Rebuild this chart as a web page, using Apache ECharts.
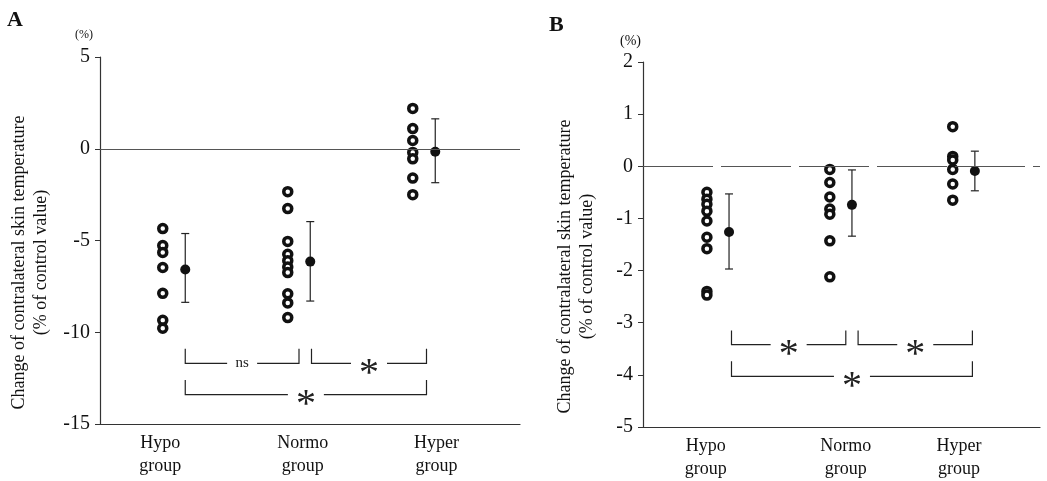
<!DOCTYPE html>
<html>
<head>
<meta charset="utf-8">
<script src="https://cdn.jsdelivr.net/npm/echarts@6/dist/echarts.min.js"></script>
<style>
html, body { margin: 0; padding: 0; background: #fff; }
#chart { width: 1047px; height: 481px; }
</style>
</head>
<body>
<div id="chart"></div>
<script>
// groups and tick ranges
var groups = ['Hypo', 'Normo', 'Hyper'];
var yTicksA = { min: -15, max: 5, interval: 5 };
var yTicksB = { min: -5, max: 2, interval: 1 };

// panel A: individual values (%)
var hypoA = [-4.35, -5.27, -5.65, -6.47, -7.88, -9.35, -9.78];
var normoA = [-2.34, -3.26, -5.05, -5.75, -6.1, -6.45, -6.75, -7.9, -8.4, -9.2];
var hyperA = [2.2, 1.1, 0.45, -0.2, -0.55, -1.6, -2.5];
var meanA = [-6.58, -6.15, -0.16];
var lowA = [-8.37, -8.3, -1.85];
var highA = [-4.62, -3.97, 1.63];

// panel B: individual values (%)
var hypoB = [-0.5, -0.63, -0.73, -0.86, -1.05, -1.36, -1.58, -2.4, -2.47];
var normoB = [-0.06, -0.31, -0.59, -0.82, -0.92, -1.43, -2.12];
var hyperB = [0.76, 0.19, 0.12, -0.06, -0.34, -0.65];
var meanB = [-1.26, -0.74, -0.09];
var lowB = [-1.97, -1.34, -0.47];
var highB = [-0.53, -0.07, 0.29];

// significance brackets: [from, to, top, bottom]
var bracketsA = [[0.09, 1.0, -10.9, -11.7], [1.1, 2.02, -10.9, -11.7], [0.09, 2.02, -12.6, -13.4]];
var bracketTextA = ['ns', '*', '*'];
var bracketsB = [[0.11, 1.04, -3.15, -3.42], [1.14, 2.07, -3.15, -3.42], [0.11, 2.07, -3.74, -4.03]];
var bracketTextB = ['*', '*', '*'];

var ptOff = -0.09, meanOff = 0.09;
var serif = 'Liberation Serif';
var labelPosA = [-0.11, 1.03, 2.1];
var labelPosB = [-0.1, 1.04, 1.96];

function pts(lists) {
    var out = [];
    lists.forEach(function (list, gi) {
        list.forEach(function (v) { out.push([gi + ptOff, v]); });
    });
    return out;
}
function means(m) {
    return m.map(function (v, gi) { return [gi + meanOff, v]; });
}
function bars(lo, hi) {
    return lo.map(function (v, gi) { return [gi + meanOff, v, hi[gi]]; });
}

function renderBar(params, api) {
    var top = api.coord([api.value(0), api.value(2)]);
    var bot = api.coord([api.value(0), api.value(1)]);
    var w = 4;
    var st = { stroke: '#222', lineWidth: 1.2 };
    return {
        type: 'group',
        children: [
            { type: 'line', shape: { x1: top[0], y1: top[1], x2: bot[0], y2: bot[1] }, style: st },
            { type: 'line', shape: { x1: top[0] - w, y1: top[1], x2: top[0] + w, y2: top[1] }, style: st },
            { type: 'line', shape: { x1: bot[0] - w, y1: bot[1], x2: bot[0] + w, y2: bot[1] }, style: st }
        ]
    };
}

function bracketRenderer(texts) {
    return function (params, api) {
        var tl = api.coord([api.value(0), api.value(2)]);
        var bl = api.coord([api.value(0), api.value(3)]);
        var br = api.coord([api.value(1), api.value(3)]);
        var tr = api.coord([api.value(1), api.value(2)]);
        var txt = texts[params.dataIndex];
        var mid = (bl[0] + br[0]) / 2;
        var gap = txt === 'ns' ? 15 : 18;
        var st = { stroke: '#222', lineWidth: 1.2, fill: null };
        var label = txt === 'ns'
            ? { type: 'text', x: mid, y: bl[1], style: { text: 'ns', fontFamily: serif, fontSize: 15, fill: '#222', align: 'center', verticalAlign: 'middle' } }
            : { type: 'text', x: mid, y: bl[1] + 11, style: { text: '*', fontFamily: serif, fontSize: 40, fill: '#222', align: 'center', verticalAlign: 'middle' } };
        return {
            type: 'group',
            children: [
                { type: 'polyline', shape: { points: [tl, bl, [mid - gap, bl[1]]] }, style: st },
                { type: 'polyline', shape: { points: [[mid + gap, br[1]], br, tr] }, style: st },
                label
            ]
        };
    };
}

function xAxisFor(gridIndex, min, max, labelPos) {
    return {
        type: 'value', gridIndex: gridIndex, min: min, max: max,
        axisLine: { show: true, onZero: false, lineStyle: { color: '#333', width: 1.2 } },
        axisTick: { show: false },
        splitLine: { show: false },
        axisLabel: {
            customValues: labelPos,
            margin: 8,
            fontFamily: serif, fontSize: 18, lineHeight: 23, color: '#111',
            formatter: function (v) {
                var best = 0;
                labelPos.forEach(function (p, i) { if (Math.abs(p - v) < Math.abs(labelPos[best] - v)) best = i; });
                return groups[best] + '\ngroup';
            }
        }
    };
}

function yAxisFor(gridIndex, ticks, gap) {
    return {
        type: 'value', gridIndex: gridIndex,
        min: ticks.min, max: ticks.max, interval: ticks.interval,
        name: 'Change of contralateral skin temperature\n(% of control value)',
        nameLocation: 'middle', nameRotate: 90, nameGap: gap,
        nameTextStyle: { fontFamily: serif, fontSize: 18, lineHeight: 22, color: '#111', padding: [0, 44, 0, 0] },
        axisLine: { show: true, onZero: false, lineStyle: { color: '#333', width: 1.2 } },
        axisTick: { show: true, length: 5, lineStyle: { color: '#333' } },
        splitLine: { show: false },
        axisLabel: { fontFamily: serif, fontSize: 20, color: '#111', margin: 10 }
    };
}

function panelSeries(idx, lists, m, lo, hi, brackets, texts, dashed) {
    return [
        {
            type: 'scatter', xAxisIndex: idx, yAxisIndex: idx,
            data: pts(lists), symbol: 'circle', symbolSize: 8,
            itemStyle: { color: '#fff', borderColor: '#111', borderWidth: 3.5, opacity: 1 },
            markLine: {
                silent: true, symbol: 'none', label: { show: false },
                lineStyle: { color: '#555', width: 1, type: dashed ? [70, 8] : 'solid' },
                data: [{ yAxis: 0 }]
            },
            z: 3
        },
        {
            type: 'custom', xAxisIndex: idx, yAxisIndex: idx,
            data: bars(lo, hi), renderItem: renderBar, z: 2
        },
        {
            type: 'scatter', xAxisIndex: idx, yAxisIndex: idx,
            data: means(m), symbol: 'circle', symbolSize: 10,
            itemStyle: { color: '#111', opacity: 1 }, z: 4
        },
        {
            type: 'custom', xAxisIndex: idx, yAxisIndex: idx,
            data: brackets, renderItem: bracketRenderer(texts), z: 2
        }
    ];
}

var chart = echarts.init(document.getElementById('chart'));
var option = {
    animation: false,
    backgroundColor: '#fff',
    grid: [
        { left: 100, right: 527, top: 57, bottom: 57 },
        { left: 643, right: 7, top: 62, bottom: 52 }
    ],
    xAxis: [
        xAxisFor(0, -0.592, 2.768, labelPosA),
        xAxisFor(1, -0.61, 2.62, labelPosB)
    ],
    yAxis: [
        yAxisFor(0, yTicksA, 48),
        yAxisFor(1, yTicksB, 45)
    ],
    graphic: [
        { type: 'text', left: 7, top: 9, style: { text: 'A', fontFamily: serif, fontWeight: 'bold', fontSize: 22, fill: '#111' } },
        { type: 'text', left: 549, top: 14, style: { text: 'B', fontFamily: serif, fontWeight: 'bold', fontSize: 22, fill: '#111' } },
        { type: 'text', left: 75, top: 29, style: { text: '(%)', fontFamily: serif, fontSize: 12, fill: '#111' } },
        { type: 'text', left: 620, top: 34, style: { text: '(%)', fontFamily: serif, fontSize: 14, fill: '#111' } }
    ],
    series: [].concat(
        panelSeries(0, [hypoA, normoA, hyperA], meanA, lowA, highA, bracketsA, bracketTextA, false),
        panelSeries(1, [hypoB, normoB, hyperB], meanB, lowB, highB, bracketsB, bracketTextB, true)
    )
};
chart.setOption(option);
</script>
</body>
</html>
